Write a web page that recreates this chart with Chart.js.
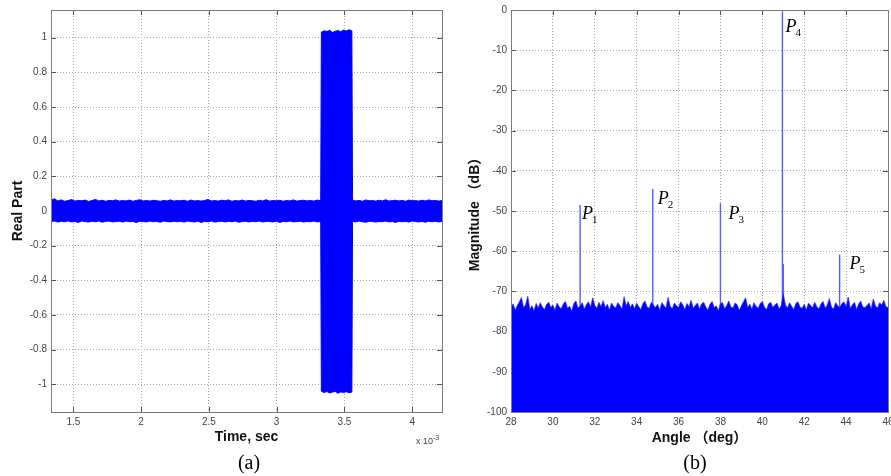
<!DOCTYPE html>
<html><head><meta charset="utf-8">
<script src="https://cdn.jsdelivr.net/npm/chart.js@4/dist/chart.umd.min.js"></script>
<style>
body{margin:0;width:891px;height:476px;position:relative;background:#fff;overflow:hidden;}
canvas{position:absolute;top:0;}
.cap{position:absolute;font-family:"Liberation Serif","Times New Roman",serif;font-size:20px;color:#000;transform:translate(-50%,-50%);}
.exp{position:absolute;font-family:"Liberation Sans",Arial,sans-serif;font-size:9px;color:#444;}
.exp sup{font-size:7px;}
</style></head>
<body>
<canvas id="ca" width="450" height="476" style="left:0"></canvas>
<canvas id="cb" width="441" height="476" style="left:450px"></canvas>
<div class="cap" style="left:249px;top:462px">(a)</div>
<div class="cap" style="left:695px;top:462px">(b)</div>
<div class="exp" style="left:416px;top:434px">x 10<sup>-3</sup></div>
<script>
// ---------- (a) time signal, time in units of 1e-3 s ----------
const timeTicks = [1.5, 2, 2.5, 3, 3.5, 4];
const realTicks = [-1, -0.8, -0.6, -0.4, -0.2, 0, 0.2, 0.4, 0.6, 0.8, 1];
const timeRange = [1.335, 4.22];
const realRange = [-1.16, 1.16];

const noiseSpanA = [1.335, 3.325];
const upperA = [0.062,0.071,0.058,0.064,0.056,0.060,0.066,0.057,0.061,0.059,
0.063,0.055,0.060,0.067,0.058,0.062,0.056,0.061,0.059,0.064,
0.057,0.060,0.058,0.063,0.056,0.061,0.065,0.058,0.060,0.057,
0.062,0.059,0.056,0.061,0.058,0.064,0.057,0.060,0.059,0.062,
0.056,0.063,0.058,0.060,0.057,0.061,0.066,0.058,0.060,0.057,
0.062,0.059,0.064,0.056,0.060,0.058,0.063,0.057,0.061,0.059,
0.056,0.062,0.058,0.065,0.057,0.060,0.059,0.062,0.056,0.061,
0.058,0.064,0.057,0.060,0.062,0.058,0.061,0.057,0.063,0.059];
const lowerA = [-0.061,-0.058,-0.064,-0.059,-0.062,-0.057,-0.063,-0.060,-0.066,-0.058,
-0.061,-0.064,-0.059,-0.062,-0.057,-0.065,-0.060,-0.058,-0.063,-0.061,
-0.059,-0.064,-0.058,-0.062,-0.060,-0.067,-0.059,-0.061,-0.063,-0.058,
-0.062,-0.060,-0.065,-0.058,-0.061,-0.063,-0.059,-0.062,-0.060,-0.064,
-0.058,-0.061,-0.063,-0.059,-0.066,-0.060,-0.062,-0.058,-0.064,-0.061,
-0.059,-0.063,-0.060,-0.062,-0.058,-0.065,-0.061,-0.059,-0.063,-0.060,
-0.062,-0.058,-0.064,-0.060,-0.061,-0.063,-0.059,-0.066,-0.060,-0.062,
-0.058,-0.063,-0.061,-0.059,-0.064,-0.060,-0.062,-0.058,-0.063,-0.061];

const burstSpan = [3.33, 3.555];
const burstUpper = [1.032,1.040,1.036,1.043,1.030,1.038,1.041,1.035,1.044,1.039,1.046,1.040];
const burstLower = [-1.040,-1.048,-1.042,-1.050,-1.045,-1.041,-1.052,-1.044,-1.047,-1.043,-1.049,-1.045];

const noiseSpanB = [3.56, 4.22];
const upperB = [0.063,0.058,0.061,0.056,0.064,0.059,0.060,0.057,0.062,0.058,0.065,0.057,0.060,0.062,
0.058,0.061,0.056,0.063,0.059,0.060,0.057,0.062,0.058,0.064,0.059,0.061,0.057,0.060];
const lowerB = [-0.060,-0.063,-0.058,-0.062,-0.065,-0.059,-0.061,-0.064,-0.060,-0.062,-0.058,-0.063,-0.061,-0.066,
-0.059,-0.062,-0.060,-0.064,-0.058,-0.061,-0.063,-0.060,-0.065,-0.059,-0.062,-0.060,-0.063,-0.061];

// ---------- (b) angle spectrum ----------
const angleTicks = [28, 30, 32, 34, 36, 38, 40, 42, 44, 46];
const dbTicks = [-100, -90, -80, -70, -60, -50, -40, -30, -20, -10, 0];
const angleRange = [28, 46];
const dbRange = [-100, 0];
const floorDb = [
-74.2,-73.1,-74.6,-73.5,-72.6,-71.5,-74.0,-73.3,-71.2,-74.4,
-73.6,-74.8,-73.0,-74.1,-72.8,-73.9,-74.5,-73.2,-72.7,-74.0,
-73.4,-74.7,-72.9,-73.8,-74.3,-73.1,-72.5,-74.2,-73.7,-74.9,
-73.0,-72.4,-74.1,-73.6,-72.8,-74.4,-73.3,-72.6,-73.9,-71.6,
-73.5,-74.2,-72.7,-73.8,-72.3,-74.0,-73.2,-74.6,-72.9,-73.7,
-74.1,-72.8,-73.5,-74.4,-71.3,-73.6,-72.5,-74.0,-73.1,-74.3,
-72.9,-73.8,-74.5,-73.0,-72.4,-73.9,-74.2,-72.7,-73.4,-74.0,
-73.2,-74.6,-72.8,-73.5,-74.1,-71.5,-73.7,-74.3,-72.9,-73.6,
-74.0,-72.6,-73.3,-74.5,-73.0,-73.8,-72.2,-74.2,-73.5,-72.9,
-74.4,-73.1,-72.7,-73.9,-74.6,-73.2,-72.5,-74.0,-73.6,-74.8,
-73.0,-72.8,-74.3,-73.5,-72.4,-73.9,-74.1,-72.9,-73.3,-74.7,
-73.6,-72.6,-71.6,-74.0,-73.2,-74.4,-72.8,-73.7,-74.2,-73.0,
-72.5,-73.9,-74.5,-73.1,-72.7,-74.0,-73.4,-72.9,-74.3,-73.6,
-70.5,-73.3,-74.1,-72.8,-73.7,-74.5,-73.0,-72.6,-73.9,-74.2,
-73.2,-74.6,-72.9,-73.5,-74.0,-72.7,-73.8,-74.3,-73.1,-72.5,
-74.1,-73.4,-71.8,-73.9,-74.4,-72.8,-73.6,-74.0,-73.0,-72.6,
-73.8,-71.4,-74.2,-73.3,-72.7,-74.5,-73.1,-72.4,-73.9,-74.0,
-73.5,-72.9,-74.3,-71.9,-73.6,-74.1,-72.8,-73.4,-72.2,-73.8,
-74.0];
const peakAngles = [31.3, 34.77, 38.0, 40.96, 43.69];
const peakDb = [-48.5, -44.5, -48.1, -0.3, -60.8];
const peakNames = ['1', '2', '3', '4', '5'];
const sideAngles = [41.0];
const sideDb = [-63.2];

// ---------- helpers ----------
function spread(span, values) {
  const n = values.length;
  return values.map((v, i) => ({ x: span[0] + (span[1] - span[0]) * i / (n - 1), y: v }));
}
function stems(angles, dbs) {
  const pts = [];
  angles.forEach((a, i) => { pts.push({ x: a, y: dbRange[0] }, { x: a, y: dbs[i] }, { x: a, y: null }); });
  return pts;
}

const BLUE = '#0000ff';
const tickFont = { family: '"Liberation Sans", Arial, sans-serif', size: 10 };
const titleFont = { family: '"Liberation Sans", Arial, "Noto Sans CJK SC", sans-serif', size: 14, weight: 'bold' };

const matlabFrame = {
  id: 'matlabFrame',
  beforeDatasetsDraw(chart) {
    const { ctx, chartArea: a, scales: { x, y } } = chart;
    ctx.save();
    ctx.strokeStyle = '#555';
    ctx.lineWidth = 1;
    ctx.beginPath();
    x.ticks.forEach(t => {
      const p = Math.round(x.getPixelForValue(t.value)) + 0.5;
      ctx.moveTo(p, a.top); ctx.lineTo(p, a.top + 5);
      ctx.moveTo(p, a.bottom); ctx.lineTo(p, a.bottom - 5);
    });
    y.ticks.forEach(t => {
      const p = Math.round(y.getPixelForValue(t.value)) + 0.5;
      ctx.moveTo(a.left, p); ctx.lineTo(a.left + 5, p);
      ctx.moveTo(a.right, p); ctx.lineTo(a.right - 5, p);
    });
    ctx.stroke();
    ctx.restore();
  },
  afterDatasetsDraw(chart) {
    const { ctx, chartArea: a } = chart;
    ctx.save();
    ctx.strokeStyle = '#7a7a7a';
    ctx.lineWidth = 1;
    ctx.strokeRect(Math.round(a.left) + 0.5, Math.round(a.top) + 0.5,
      Math.round(a.right - a.left), Math.round(a.bottom - a.top));
    ctx.restore();
  }
};

function axis(range, ticks, opts) {
  return Object.assign({
    type: 'linear', min: range[0], max: range[1],
    afterBuildTicks: s => { s.ticks = ticks.map(v => ({ value: v })); },
    ticks: { font: tickFont, color: '#444', padding: 4, maxRotation: 0, autoSkip: false,
             callback: v => String(v) },
    grid: { color: '#a8a8a8', lineWidth: 1, drawTicks: false },
    border: { display: false, dash: [1, 2] }
  }, opts);
}

const baseOpts = {
  responsive: false, animation: false, devicePixelRatio: 1,
  plugins: { legend: { display: false }, tooltip: { enabled: false } },
  elements: { point: { radius: 0 }, line: { tension: 0 } }
};

// ---------- chart (a) ----------
const upperPts = spread(noiseSpanA, upperA).concat(spread(burstSpan, burstUpper), spread(noiseSpanB, upperB));
const lowerPts = spread(noiseSpanA, lowerA).concat(spread(burstSpan, burstLower), spread(noiseSpanB, lowerB));

new Chart(document.getElementById('ca'), {
  type: 'line',
  data: { datasets: [
    { data: upperPts, borderColor: BLUE, borderWidth: 1, fill: false },
    { data: lowerPts, borderColor: BLUE, borderWidth: 1, backgroundColor: BLUE, fill: '-1' }
  ] },
  options: Object.assign({}, baseOpts, {
    layout: { padding: { left: 0, right: 8, top: 10, bottom: 0 } },
    scales: {
      x: axis(timeRange, timeTicks, {
        title: { display: true, text: 'Time, sec', font: titleFont, color: '#111', padding: { top: 0, bottom: 30.6 } },
        afterFit: s => { s.height = 64; s.paddingLeft = 0; s.paddingRight = 0; }
      }),
      y: axis(realRange, realTicks, {
        title: { display: true, text: 'Real Part', font: titleFont, color: '#111', padding: { top: 9.6, bottom: 0 } },
        afterFit: s => { s.width = 51; s.paddingTop = 0; s.paddingBottom = 0; }
      })
    }
  }),
  plugins: [matlabFrame]
});

// ---------- chart (b) ----------
const labelStyle = { dx: [2, 5, 8, 3, 10], dy: [14, 15, 16, 21, 15] };
const peakLabels = {
  id: 'peakLabels',
  afterDatasetsDraw(chart) {
    const { ctx, scales: { x, y } } = chart;
    ctx.save();
    ctx.fillStyle = '#000';
    ctx.textBaseline = 'alphabetic';
    peakAngles.forEach((a, i) => {
      const px = x.getPixelForValue(a) + labelStyle.dx[i];
      const py = y.getPixelForValue(peakDb[i]) + labelStyle.dy[i];
      ctx.font = 'italic 18px "Liberation Serif", "Times New Roman", serif';
      ctx.fillText('P', px, py);
      const w = ctx.measureText('P').width;
      ctx.font = '11px "Liberation Serif", "Times New Roman", serif';
      ctx.fillText(peakNames[i], px + w - 1, py + 4);
    });
    ctx.restore();
  }
};

new Chart(document.getElementById('cb'), {
  type: 'line',
  data: { datasets: [
    { data: spread(angleRange, floorDb), borderColor: 'rgba(40,40,255,0.7)', borderWidth: 1,
      backgroundColor: BLUE, fill: 'start' },
    { data: stems(peakAngles, peakDb), borderColor: '#5a5aff', borderWidth: 1.4, fill: false, spanGaps: false },
    { data: stems(sideAngles, sideDb), borderColor: '#5a5aff', borderWidth: 1.4, fill: false, spanGaps: false }
  ] },
  options: Object.assign({}, baseOpts, {
    layout: { padding: { left: 0, right: 3, top: 10, bottom: 0 } },
    scales: {
      x: axis(angleRange, angleTicks, {
        title: { display: true, text: 'Angle （deg）', font: titleFont, color: '#111', padding: { top: 0, bottom: 29.6 } },
        afterFit: s => { s.height = 64; s.paddingLeft = 0; s.paddingRight = 0; }
      }),
      y: axis(dbRange, dbTicks, {
        title: { display: true, text: 'Magnitude （dB）', font: titleFont, color: '#111', padding: { top: 16.6, bottom: 0 } },
        afterFit: s => { s.width = 61; s.paddingTop = 0; s.paddingBottom = 0; }
      })
    }
  }),
  plugins: [matlabFrame, peakLabels]
});
</script>
</body></html>
